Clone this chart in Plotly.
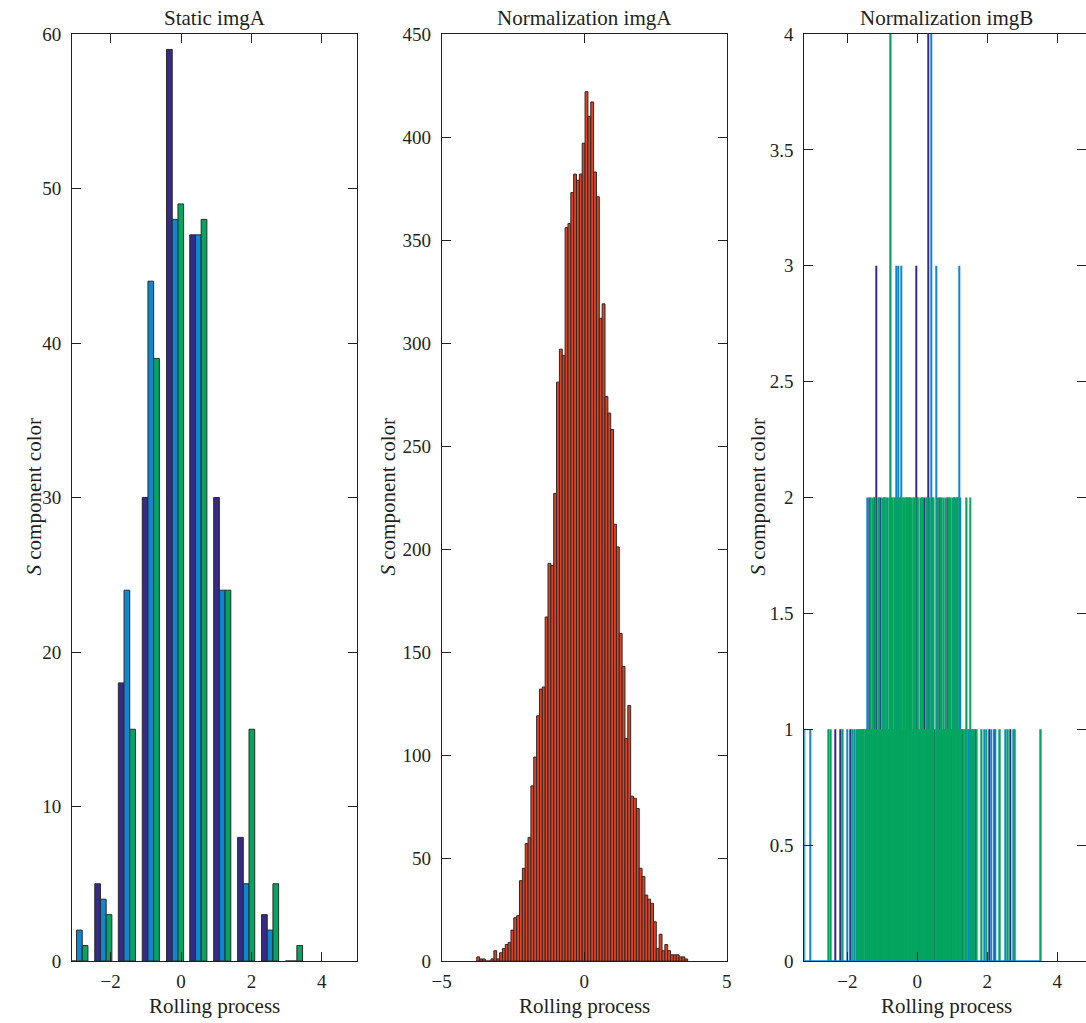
import plotly.graph_objects as go

# ---------------- Panel 1: Static imgA (grouped histogram, 3 channels) -------------
group_centers = [-2.89, -2.21, -1.54, -0.86, -0.17, 0.49, 1.17, 1.85, 2.53, 3.21]
static_dark = [0, 5, 18, 30, 59, 47, 30, 8, 3, 0]
static_light = [2, 4, 24, 44, 48, 47, 24, 5, 2, 0]
static_green = [1, 3, 15, 39, 49, 48, 24, 15, 5, 1]

# ---------------- Panel 2: Normalization imgA (histogram) ---------------------------
norm_a_left_edge = -3.77
norm_a_bin_width = 0.1
norm_a_counts = [2, 1, 1, 0, 0, 1, 5, 1, 4, 6,
                 8, 9, 15, 21, 22, 39, 45, 57, 60, 85,
                 99, 119, 132, 133, 167, 193, 192, 227, 281, 297,
                 294, 356, 358, 373, 382, 379, 382, 397, 422, 410,
                 417, 383, 371, 312, 319, 274, 266, 258, 212, 201,
                 159, 143, 108, 124, 80, 79, 74, 45, 41, 32,
                 30, 28, 19, 6, 13, 5, 8, 5, 3, 3,
                 3, 2, 2, 1]

# ---------------- Panel 3: Normalization imgB (fine histogram, 3 channels) ---------
# positions of bins, grouped by count level
imgb_green_h4 = [-0.76]
imgb_green_h2 = [-1.33, -1.27, -1.20, -1.12, -1.00, -0.93, -0.86, -0.80, -0.74, -0.70,
                 -0.66, -0.62, -0.57, -0.52, -0.48, -0.44, -0.40, -0.36, -0.32, -0.28,
                 -0.24, -0.20, -0.16, -0.12, -0.08, 0.02, 0.10, 0.16, 0.26, 0.36,
                 0.47, 0.58, 0.66, 0.74, 0.80, 0.88, 0.95, 1.02, 1.10, 1.16, 1.41, 1.51]
imgb_green_h1 = [-2.54, -2.47, -2.13, -1.86,
                 -1.75, -1.71, -1.68, -1.64, -1.60, -1.57, -1.53, -1.49, -1.46, -1.42,
                 -1.39, -1.35, -1.28, -1.24, -1.20, -1.17, -1.13, -1.06,
                 -1.02, -0.99, -0.95, -0.91, -0.88, -0.84, -0.81, -0.77, -0.73, -0.70,
                 -0.66, -0.62, -0.59, -0.55, -0.48, -0.44, -0.41, -0.37, -0.33,
                 -0.30, -0.26, -0.23, -0.19, -0.15, -0.12, -0.08, -0.04, -0.01,
                 0.06, 0.10, 0.14, 0.17, 0.21, 0.25, 0.28, 0.32, 0.35, 0.39,
                 0.43, 0.46, 0.54, 0.57, 0.61, 0.64, 0.72, 0.75,
                 0.79, 0.83, 0.86, 0.90, 0.93, 1.01, 1.04, 1.08, 1.12,
                 1.15, 1.19, 1.22, 1.26, 1.33, 1.37, 1.41,
                 1.55, 1.62, 1.70, 1.84, 1.98, 2.36, 2.59, 2.79, 3.53]

imgb_dark_h4 = [0.31]
imgb_dark_h3 = [-1.18, -0.04]
imgb_dark_h2 = [-1.38, -1.24, -1.05, -0.95, -0.22, 0.00, 0.21, 0.62, 0.86, 1.06, 1.13]
imgb_dark_h1 = [-2.35, -2.19, -1.92, -1.55, -1.31, -0.90, -0.52, 0.12, 0.50, 0.97,
                1.30, 1.66, 2.05, 2.20, 2.65]

imgb_light_h4 = [0.41]
imgb_light_h3 = [-0.61, -0.54, -0.45, 0.53, 1.20]
imgb_light_h2 = [-1.42, -1.08, -0.89, -0.30, 0.14, 0.29, 0.43, 0.70, 0.92, 1.07, 1.24]
imgb_light_h1 = [-3.22, -3.07, -1.99, -1.80, -1.64, -1.10, -0.60, 0.03, 0.68, 1.45,
                 1.49, 1.58, 1.91, 2.12, 2.24, 2.51, 2.74]

# ---------------- styling --------------------------------------------------------------
C_DARK = "#352a87"
C_LIGHT = "#0d87cf"
C_GREEN = "#04a55e"
C_RED = "#e2411f"
C_EDGE = "#2b2b2b"
C_TEXT = "#231f20"
FONT = "Liberation Serif"

W, H = 1086, 1023
ytop, ybot = 34, 961
panels_px = [(72, 357), (441.7, 726.7), (804.3, 1086)]


def fx(px):
    return min(max(px / W, 0.0), 1.0)


def fy(py):
    return 1 - py / H


ydom = [fy(ybot), fy(ytop)]

fig = go.Figure()

# Panel 1
bw1 = 0.162
for vals, col, off in [(static_dark, C_DARK, -1.5 * bw1),
                       (static_light, C_LIGHT, -0.5 * bw1),
                       (static_green, C_GREEN, 0.5 * bw1)]:
    fig.add_trace(go.Bar(x=group_centers, y=vals, width=bw1, offset=off,
                         marker=dict(color=col, line=dict(color=C_EDGE, width=1)),
                         xaxis="x", yaxis="y", showlegend=False))

# Panel 2
norm_a_centers = [norm_a_left_edge + norm_a_bin_width * (i + 0.5) for i in range(len(norm_a_counts))]
fig.add_trace(go.Bar(x=norm_a_centers, y=norm_a_counts, width=norm_a_bin_width,
                     offset=-norm_a_bin_width / 2,
                     marker=dict(color=C_RED, line=dict(color=C_EDGE, width=1)),
                     xaxis="x2", yaxis="y2", showlegend=False))


# Panel 3
def levels_xy(levels):
    xs, ys = [], []
    for h, pos in levels:
        xs += pos
        ys += [h] * len(pos)
    return xs, ys


all_b = imgb_green_h1 + imgb_dark_h1 + imgb_light_h1
fig.add_trace(go.Scatter(x=[min(all_b) - 0.02, max(all_b)], y=[0, 0], mode="lines",
                         line=dict(color=C_LIGHT, width=1.5),
                         xaxis="x3", yaxis="y3", showlegend=False, hoverinfo="skip"))

for levels, col, bw in [
    ([(1, imgb_dark_h1), (2, imgb_dark_h2), (3, imgb_dark_h3), (4, imgb_dark_h4)], C_DARK, 0.032),
    ([(1, imgb_light_h1), (2, imgb_light_h2), (3, imgb_light_h3), (4, imgb_light_h4)], C_LIGHT, 0.032),
    ([(1, imgb_green_h1), (2, imgb_green_h2), (4, imgb_green_h4)], C_GREEN, 0.045),
]:
    xs, ys = levels_xy(levels)
    fig.add_trace(go.Bar(x=xs, y=ys, width=bw, offset=-bw / 2,
                         marker=dict(color=col, line=dict(width=0)),
                         xaxis="x3", yaxis="y3", showlegend=False))

axis_common = dict(showline=True, linecolor=C_TEXT, linewidth=1, mirror="ticks",
                   ticks="inside", ticklen=9, tickcolor=C_TEXT, tickwidth=1,
                   showgrid=False, zeroline=False, automargin=False,
                   tickfont=dict(family=FONT, size=19, color=C_TEXT))
xcommon = dict(axis_common, ticklabelstandoff=3)
ycommon = dict(axis_common, ticklabelstandoff=6)

fig.update_layout(
    width=W, height=H,
    margin=dict(l=0, r=0, t=0, b=0, pad=0, autoexpand=False),
    paper_bgcolor="white", plot_bgcolor="white",
    barmode="overlay",
    xaxis=dict(domain=[fx(panels_px[0][0]), fx(panels_px[0][1])], range=[-3.1, 5],
               tickvals=[-2, 0, 2, 4], anchor="y", **xcommon),
    yaxis=dict(domain=ydom, range=[0, 60], tickvals=list(range(0, 61, 10)),
               anchor="x", **ycommon),
    xaxis2=dict(domain=[fx(panels_px[1][0]), fx(panels_px[1][1])], range=[-5, 5],
                tickvals=[-5, 0, 5], anchor="y2", **xcommon),
    yaxis2=dict(domain=ydom, range=[0, 450], tickvals=list(range(0, 451, 50)),
                anchor="x2", **ycommon),
    xaxis3=dict(domain=[fx(panels_px[2][0]), fx(panels_px[2][1])], range=[-3.23, 4.82],
                tickvals=[-2, 0, 2, 4], anchor="y3", **xcommon),
    yaxis3=dict(domain=ydom, range=[0, 4], tickvals=[0, 0.5, 1, 1.5, 2, 2.5, 3, 3.5, 4],
                anchor="x3", **{**ycommon, "mirror": False}),
    yaxis4=dict(overlaying="y3", side="right", anchor="x3", range=[0, 4],
                tickvals=[0, 0.5, 1, 1.5, 2, 2.5, 3, 3.5, 4], showticklabels=False,
                showline=False, ticks="inside", ticklen=9, tickcolor=C_TEXT,
                showgrid=False, zeroline=False, automargin=False),
)

# invisible trace so the right-hand tick axis of panel 3 is drawn
fig.add_trace(go.Scatter(x=[0], y=[0], xaxis="x3", yaxis="y4", mode="markers",
                         marker=dict(opacity=0), showlegend=False, hoverinfo="skip"))

titles = ["Static imgA", "Normalization imgA", "Normalization imgB"]
ylabel_x = [33, 387, 757]
title_cx = [214.5, 584.2, 946]
for cx, t, yx in zip(title_cx, titles, ylabel_x):
    fig.add_annotation(text=t, x=fx(cx), y=fy(18), xref="paper", yref="paper",
                       showarrow=False, xanchor="center", yanchor="middle",
                       font=dict(family=FONT, size=21, color=C_TEXT))
    fig.add_annotation(text="Rolling process", x=fx(cx), y=fy(1006), xref="paper",
                       yref="paper", showarrow=False, xanchor="center", yanchor="middle",
                       font=dict(family=FONT, size=21, color=C_TEXT))
    fig.add_annotation(text="<i>S</i> component color", x=fx(yx), y=(ydom[0] + ydom[1]) / 2,
                       xref="paper", yref="paper", showarrow=False, textangle=-90,
                       xanchor="center", yanchor="middle",
                       font=dict(family=FONT, size=21, color=C_TEXT))

# remove the default 8px page margin so the figure fills the window exactly
fig.write_html("out.html",
               config={"displayModeBar": False},
               post_script="document.body.style.margin='0px';document.body.style.overflow='hidden';")
